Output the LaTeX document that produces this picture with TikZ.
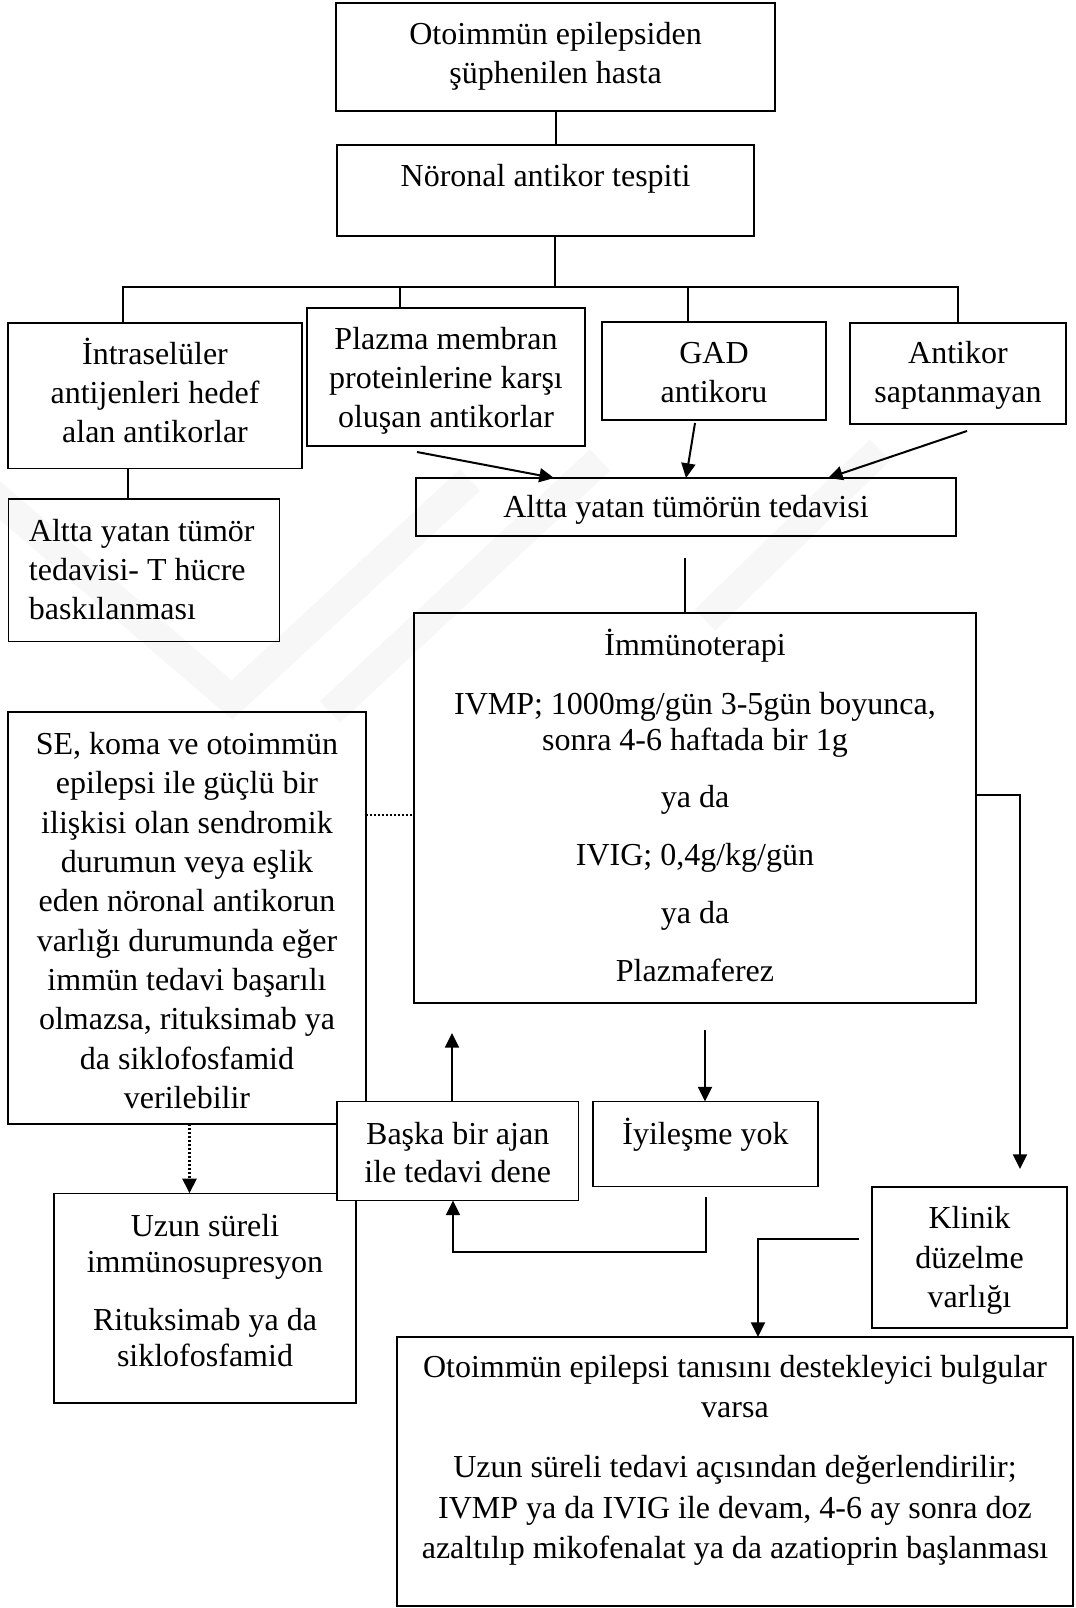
\documentclass[tikz,border=0pt]{standalone}
\usepackage{fontspec}
\setmainfont{Liberation Serif}
\usetikzlibrary{arrows.meta}
\newdimen\px \px=0.75pt
% [align]{W px}{H px}{2d px}{baselineskip pt}{text}
\newcommand\bx[6][\centering]{\parbox[c][#3\px][c]{#2\px}{\fontsize{24pt}{#5pt}\selectfont#1 #6\par\vspace*{#4\px}}}
\begin{document}
\begin{tikzpicture}[x=0.75pt,y=-0.75pt,
  box/.style={draw,line width=1.2pt,inner sep=0pt,outer sep=0pt},
  conn/.style={line width=1.5pt},
  arr/.style={conn,-{Triangle[length=11pt,width=10.5pt]}},
  dots/.style={line width=1.7pt,dash pattern=on 1.5pt off 1.5pt},
  dotarr/.style={dots,-{Triangle[length=11pt,width=10.5pt]}},
  wm/.style={line width=22pt,black!3}]
\fill[white] (0,0) rectangle (1075,1608);
\useasboundingbox (0,0) rectangle (1075,1608);
% faint watermark
\draw[wm] (-10,492) -- (232,700) -- (470,480);
\draw[wm] (330,712) -- (600,460);
\draw[wm] (705,620) -- (880,450);

\node[box] (b1) at (555.5,57) {\bx{439}{108}{1.4}{29.6}{Otoimmün epilepsiden\\şüphenilen hasta}};
\node[box] (b2) at (545.5,190.5) {\bx{417}{91}{24}{29.6}{Nöronal antikor tespiti}};
\node[box] (b3) at (155,395.7) {\bx{294}{145.5}{10}{29.25}{İntraselüler\\antijenleri hedef\\alan antikorlar}};
\node[box] (b4) at (446,377) {\bx{278}{138}{-7}{29.25}{Plazma membran\\proteinlerine karşı\\oluşan antikorlar}};
\node[box] (b5) at (714,371) {\bx{224.5}{98}{-3}{29.25}{GAD\\antikoru}};
\node[box] (b6) at (958,373.5) {\bx{216}{101}{-4}{29.25}{Antikor\\saptanmayan}};
\node[box] (b7) at (143.9,570.2) {\bx[\raggedright\leftskip=20.5\px\relax]{271}{142.5}{2}{29.25}{Altta yatan tümör\\tedavisi- T hücre\\baskılanması}};
\node[box] (b8) at (686,507) {\bx{540.5}{58}{-6}{29.6}{Altta yatan tümörün tedavisi}};
\node[box] (b9) at (695,808) {\bx{561.5}{390}{5}{27}{İmmünoterapi\\[17pt]IVMP; 1000mg/gün 3-5gün boyunca,\\sonra 4-6 haftada bir 1g\\[16pt]ya da\\[16pt]IVIG; 0,4g/kg/gün\\[16.5pt]ya da\\[16.5pt]Plazmaferez}};
\node[box] (se) at (187,918) {\bx{358}{412}{-5}{29.5}{SE, koma ve otoimmün\\epilepsi ile güçlü bir\\ilişkisi olan sendromik\\durumun veya eşlik\\eden nöronal antikorun\\varlığı durumunda eğer\\immün tedavi başarılı\\olmazsa, rituksimab ya\\da siklofosfamid\\verilebilir}};
\node[box] (uz) at (205,1298) {\bx{301.5}{209.4}{15}{27}{Uzun süreli\\immünosupresyon\\[17pt]Rituksimab ya da\\siklofosfamid}};
\node[box,fill=white] (ba) at (457.7,1151) {\bx{241.5}{99}{-4}{28.5}{Başka bir ajan\\ile tedavi dene}};
\node[box] (iy) at (705.5,1144) {\bx{225}{85}{19}{29.6}{İyileşme yok}};
\node[box] (kl) at (969.5,1257.5) {\bx{195}{141}{-6}{29.6}{Klinik\\düzelme\\varlığı}};
\node[box] (bot) at (735,1471.5) {\bx{676}{269}{22}{30.4}{Otoimmün epilepsi tanısını destekleyici bulgular\\varsa\\[14.6pt]Uzun süreli tedavi açısından değerlendirilir;\\IVMP ya da IVIG ile devam, 4-6 ay sonra doz\\azaltılıp mikofenalat ya da azatioprin başlanması}};

% connectors
\draw[conn] (b1.south) -- (b1.south |- b2.north);
\coordinate (bus) at (555,287);
\coordinate (bl) at (123,287);
\coordinate (br) at (958,287);
\coordinate (bp) at (400,287);
\coordinate (bg) at (688,287);
\draw[conn] (b2.south -| bus) -- (bus);
\draw[conn] (bl |- b3.north) -- (bl) -- (br) -- (br |- b6.north);
\draw[conn] (bp) -- (bp |- b4.north);
\draw[conn] (bg) -- (bg |- b5.north);
\coordinate (v37) at (128,480);
\draw[conn] (v37 |- b3.south) -- (v37 |- b7.north);

\coordinate (p1) at (417,452);
\coordinate (p2x) at (554,470);
\draw[arr] (p1) -- (b8.north -| p2x);
\coordinate (g1) at (695,423);
\draw[arr] (g1) -- (b8.north);
\coordinate (n1) at (967,431);
\coordinate (n2x) at (828,470);
\draw[arr] (n1) -- (b8.north -| n2x);

\coordinate (g89) at (685,558);
\draw[conn] (g89) -- (g89 |- b9.north);

\coordinate (r1) at (1020,795);
\coordinate (r2) at (1020,1169);
\draw[arr] (b9.east |- r1) -- (r1) -- (r2);

\coordinate (dt) at (390,815);
\draw[dots] (se.east |- dt) -- (b9.west |- dt);

\coordinate (s1) at (705,1030);
\draw[arr] (s1) -- (s1 |- iy.north);

\coordinate (u1) at (452,1033);
\draw[arr] (u1 |- ba.north) -- (u1);

\coordinate (l1) at (706,1197);
\coordinate (l2) at (453,1252);
\draw[arr] (l1) |- (l2) -- (l2 |- ba.south);

\coordinate (x190) at (189.5,1150);
\draw[dotarr] (x190 |- se.south) -- (x190 |- uz.north);

\coordinate (k1) at (859,1239);
\coordinate (k2) at (758,1239);
\draw[arr] (k1) -- (k2) -- (k2 |- bot.north);
\end{tikzpicture}
\end{document}
